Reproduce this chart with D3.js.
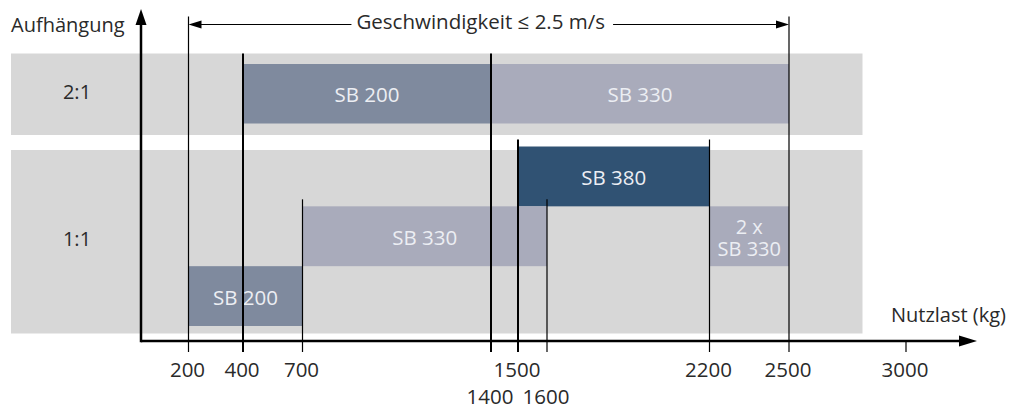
<!DOCTYPE html>
<html><head><meta charset="utf-8">
<script src="https://cdn.jsdelivr.net/npm/d3@7"></script>
<style>
body{margin:0;background:#fff}
svg{display:block}
text{font-family:"Open Sans",sans-serif;font-weight:400}
</style>
</head><body>
<svg id="chart" width="1012" height="409"></svg>
<script>
// ---------- data ----------
const suspensions = ["2:1", "1:1"];
const tickValues = [200, 400, 700, 1400, 1500, 1600, 2200, 2500, 3000];
const lowerTickLabels = [1400, 1600];
const barModels = ["SB 200", "SB 330", "SB 380", "SB 330", "2 x|SB 330", "SB 200"];
const barSuspension = ["2:1", "2:1", "1:1", "1:1", "1:1", "1:1"];
const barLane = [0, 0, 2, 1, 1, 0];
const barFrom = [400, 1400, 1500, 700, 2200, 200];
const barTo = [1400, 2500, 2200, 1600, 2500, 700];
const speedRange = [200, 2500];
const speedLabel = "Geschwindigkeit \u2264 2.5 m/s";
const xTitle = "Nutzlast (kg)";
const yTitle = "Aufh\u00e4ngung";

// ---------- layout / style ----------
const axisX0 = 141, axisY = 341, axisXEnd = 977, axisYTop = 9;
const bgLeft = 11, bgRight = 862.5;
const rowLayout = {
  "2:1": {bg: [53.5, 135], bars: [64, 123.5], lanes: 1},
  "1:1": {bg: [150, 333.5], bars: [146.5, 326], lanes: 3}
};
const speedY = 24.5;
const boldRules = new Set([400, 1400, 1500]);
const colorOf = d3.scaleOrdinal()
  .domain(["SB 200", "SB 330", "SB 380"])
  .range(["#7f8a9e", "#a9abbb", "#305273"]);

const x = d3.scaleLinear()
  .domain(tickValues)
  .range([188.5, 243, 302.5, 491, 518, 547, 709.5, 789, 906]);

const bars = barModels.map((m, i) => {
  const L = rowLayout[barSuspension[i]];
  const h = (L.bars[1] - L.bars[0]) / L.lanes;
  const top = L.bars[1] - (barLane[i] + 1) * h;
  return {lines: m.split("|"), model: m.split("|").pop(), row: barSuspension[i],
          x0: x(barFrom[i]), x1: x(barTo[i]), y0: top, y1: top + h};
});

const svg = d3.select("#chart");

// background bands
svg.append("g").selectAll("rect").data(suspensions).join("rect")
  .attr("x", bgLeft).attr("width", bgRight - bgLeft)
  .attr("y", d => rowLayout[d].bg[0])
  .attr("height", d => rowLayout[d].bg[1] - rowLayout[d].bg[0])
  .attr("fill", "#d7d7d7");

// row labels
svg.append("g").selectAll("text").data(suspensions).join("text")
  .attr("x", 77)
  .attr("y", d => (rowLayout[d].bg[0] + rowLayout[d].bg[1]) / 2 + 4.5)
  .attr("text-anchor", "middle").attr("font-size", 20).attr("fill", "#2a2a2a")
  .text(d => d);

// bars
const bg = svg.append("g").selectAll("g").data(bars).join("g");
bg.append("rect")
  .attr("x", d => d.x0).attr("y", d => d.y0)
  .attr("width", d => d.x1 - d.x0).attr("height", d => d.y1 - d.y0)
  .attr("fill", d => colorOf(d.model));
bg.each(function(d) {
  const cx = (d.x0 + d.x1) / 2, cy = (d.y0 + d.y1) / 2;
  const n = d.lines.length, lh = 22;
  d3.select(this).selectAll("text").data(d.lines).join("text")
    .attr("x", cx)
    .attr("y", (t, j) => cy + 8.5 + (j - (n - 1) / 2) * lh)
    .attr("text-anchor", "middle").attr("font-size", n > 1 ? 20 : 20.5)
    .attr("fill", "#eceef3")
    .text(t => t);
});

// vertical rules
const tickBottom = axisY + 11;
function ruleTop(v) {
  if (v === speedRange[0] || v === speedRange[1]) return speedY - 8;
  const touching = bars.filter(b => Math.abs(b.x0 - x(v)) < 0.5 || Math.abs(b.x1 - x(v)) < 0.5);
  if (!touching.length) return axisY;
  return d3.min(touching, b => b.row === "2:1" ? rowLayout["2:1"].bg[0] : b.y0 - 7);
}
svg.append("g").selectAll("line").data(tickValues).join("line")
  .attr("x1", d => x(d)).attr("x2", d => x(d))
  .attr("y1", d => ruleTop(d)).attr("y2", tickBottom)
  .attr("stroke", "#000")
  .attr("stroke-width", d => boldRules.has(d) ? 2 : 1.2);

// axes
svg.append("line").attr("x1", axisX0).attr("x2", axisXEnd - 16)
  .attr("y1", axisY).attr("y2", axisY).attr("stroke", "#000").attr("stroke-width", 2.5);
svg.append("path").attr("d", `M${axisXEnd},${axisY} L${axisXEnd - 18},${axisY - 5.5} L${axisXEnd - 18},${axisY + 5.5} Z`).attr("fill", "#000");
svg.append("line").attr("x1", axisX0).attr("x2", axisX0)
  .attr("y1", axisY + 1.2).attr("y2", axisYTop + 14).attr("stroke", "#000").attr("stroke-width", 2.5);
svg.append("path").attr("d", `M${axisX0},${axisYTop} L${axisX0 - 5.5},${axisYTop + 16} L${axisX0 + 5.5},${axisYTop + 16} Z`).attr("fill", "#000");

// tick labels
svg.append("g").selectAll("text").data(tickValues).join("text")
  .attr("x", d => x(d) - 1)
  .attr("y", d => lowerTickLabels.includes(d) ? 404 : 376.5)
  .attr("text-anchor", "middle").attr("font-size", 20.5).attr("fill", "#2a2a2a")
  .text(d => d);

// axis titles
svg.append("text").attr("x", 1006).attr("y", 321.5).attr("text-anchor", "end")
  .attr("font-size", 20).attr("fill", "#2a2a2a").text(xTitle);
svg.append("text").attr("x", 11).attr("y", 31.5)
  .attr("font-size", 20).attr("fill", "#2a2a2a").text(yTitle);

// speed range arrow
const sx0 = x(speedRange[0]), sx1 = x(speedRange[1]);
const st = svg.append("text").attr("x", (sx0 + sx1) / 2 - 8).attr("y", 28.5)
  .attr("text-anchor", "middle").attr("font-size", 20.5).attr("fill", "#2a2a2a").text(speedLabel);
const bb = st.node().getBBox();
svg.append("line").attr("x1", sx0 + 10).attr("x2", bb.x - 5).attr("y1", speedY).attr("y2", speedY)
  .attr("stroke", "#000").attr("stroke-width", 1.2);
svg.append("line").attr("x1", bb.x + bb.width + 8).attr("x2", sx1 - 10).attr("y1", speedY).attr("y2", speedY)
  .attr("stroke", "#000").attr("stroke-width", 1.2);
svg.append("path").attr("d", `M${sx0},${speedY} L${sx0 + 13},${speedY - 4} L${sx0 + 13},${speedY + 4} Z`).attr("fill", "#000");
svg.append("path").attr("d", `M${sx1},${speedY} L${sx1 - 13},${speedY - 4} L${sx1 - 13},${speedY + 4} Z`).attr("fill", "#000");
</script>
</body></html>
